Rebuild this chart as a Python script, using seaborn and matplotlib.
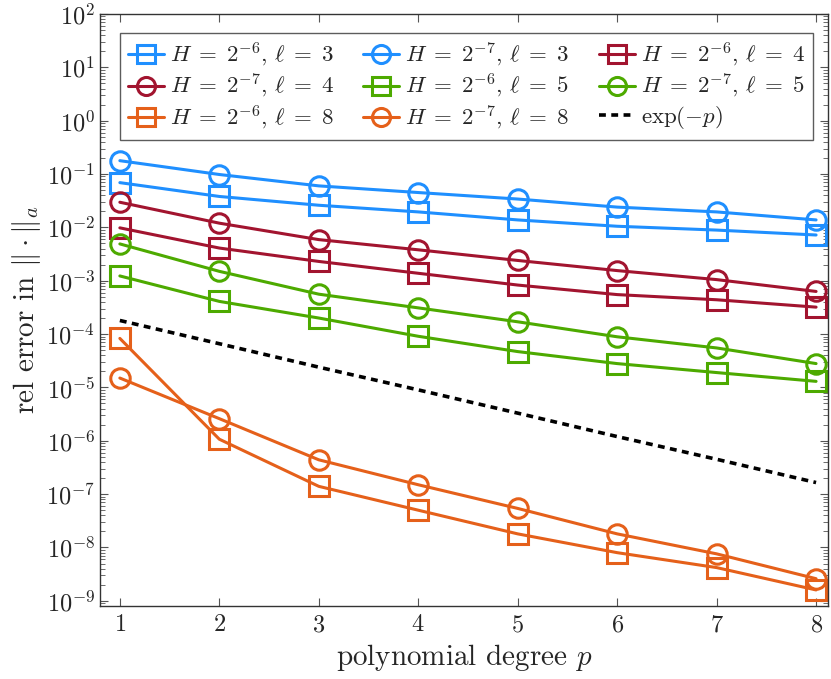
import numpy as np
import pandas as pd
import seaborn as sns
import matplotlib.pyplot as plt
from matplotlib.ticker import LogLocator, NullFormatter, FixedLocator

# polynomial degree
p = [1, 2, 3, 4, 5, 6, 7, 8]

# relative errors
h6_l3 = [6.9e-2, 3.8e-2, 2.6e-2, 1.95e-2, 1.38e-2, 1.05e-2, 8.9e-3, 7.2e-3]
h7_l3 = [1.78e-1, 9.8e-2, 6.0e-2, 4.5e-2, 3.4e-2, 2.4e-2, 1.95e-2, 1.38e-2]
h6_l4 = [9.8e-3, 4.1e-3, 2.3e-3, 1.38e-3, 8.3e-4, 5.5e-4, 4.4e-4, 3.2e-4]
h7_l4 = [2.96e-2, 1.2e-2, 5.9e-3, 3.8e-3, 2.4e-3, 1.55e-3, 1.05e-3, 6.3e-4]
h6_l5 = [1.23e-3, 4.1e-4, 2.0e-4, 9.1e-5, 4.7e-5, 2.8e-5, 1.9e-5, 1.3e-5]
h7_l5 = [4.9e-3, 1.5e-3, 5.6e-4, 3.1e-4, 1.7e-4, 8.9e-5, 5.5e-5, 2.8e-5]
h6_l8 = [8.3e-5, 1.07e-6, 1.4e-7, 5.0e-8, 1.8e-8, 8.0e-9, 4.2e-9, 1.6e-9]
h7_l8 = [1.5e-5, 2.6e-6, 4.4e-7, 1.5e-7, 5.4e-8, 1.8e-8, 7.6e-9, 2.6e-9]
ref_exp = [1.8e-4, 6.6e-5, 2.4e-5, 9.0e-6, 3.3e-6, 1.2e-6, 4.5e-7, 1.65e-7]

blue = '#1F8FFF'
red = '#A2142F'
green = '#4DAA00'
orange = '#E5601A'

series = [
    (h6_l3, r'$H\;=\;2^{-6}$, $\ell\;=\;3$', blue, 's'),
    (h7_l3, r'$H\;=\;2^{-7}$, $\ell\;=\;3$', blue, 'o'),
    (h6_l4, r'$H\;=\;2^{-6}$, $\ell\;=\;4$', red, 's'),
    (h7_l4, r'$H\;=\;2^{-7}$, $\ell\;=\;4$', red, 'o'),
    (h6_l5, r'$H\;=\;2^{-6}$, $\ell\;=\;5$', green, 's'),
    (h7_l5, r'$H\;=\;2^{-7}$, $\ell\;=\;5$', green, 'o'),
    (h6_l8, r'$H\;=\;2^{-6}$, $\ell\;=\;8$', orange, 's'),
    (h7_l8, r'$H\;=\;2^{-7}$, $\ell\;=\;8$', orange, 'o'),
]

sns.set_style('ticks')
plt.rcParams['font.family'] = 'serif'
plt.rcParams['font.serif'] = ['cmr10', 'DejaVu Serif']
plt.rcParams['mathtext.fontset'] = 'cm'
plt.rcParams['axes.formatter.use_mathtext'] = True

fig = plt.figure(figsize=(8.31, 6.79), dpi=100)
ax = fig.add_axes([0.1203, 0.1075, 0.8761, 0.8719])

for vals, label, color, marker in series:
    df = pd.DataFrame({'p': p, 'err': vals})
    sns.lineplot(data=df, x='p', y='err', ax=ax, color=color, marker=marker,
                 markersize=14, markerfacecolor='none', markeredgecolor=color,
                 markeredgewidth=2.2, linewidth=2.2, label=label)

df = pd.DataFrame({'p': p, 'err': ref_exp})
sns.lineplot(data=df, x='p', y='err', ax=ax, color='black', linewidth=2.6,
             linestyle=(0, (1.9, 1.5)), label=r'$\exp(-p)$')

ax.set_yscale('log')
ax.set_xlim(0.8, 8.12)
ax.set_ylim(8e-10, 100)
ax.xaxis.set_major_locator(FixedLocator(p))
ax.yaxis.set_major_locator(LogLocator(base=10, numticks=20))
ax.yaxis.set_minor_locator(LogLocator(base=10, subs=np.arange(2, 10), numticks=20))
ax.yaxis.set_minor_formatter(NullFormatter())
ax.tick_params(which='both', direction='in', top=True, right=True, labelsize=17.5,
               color='#555555')
ax.tick_params(which='major', length=6, width=0.8)
ax.tick_params(which='minor', length=3.5, width=0.6)
ax.tick_params(axis='x', pad=6)
for s in ax.spines.values():
    s.set_color('#333333')
    s.set_linewidth(1.0)

ax.set_xlabel(r'polynomial degree $p$', fontsize=21, labelpad=4)
ax.set_ylabel(r'rel error in $\|\cdot\|_a$', fontsize=21, labelpad=2)

handles, labels = ax.get_legend_handles_labels()
order = [0, 3, 6, 1, 4, 7, 2, 5, 8]
leg = ax.legend([handles[i] for i in order], [labels[i] for i in order],
                ncol=3, loc='upper center', bbox_to_anchor=(0.503, 0.968),
                fontsize=16.5, frameon=True, fancybox=False, edgecolor='#333333',
                handlelength=1.57, columnspacing=1.3, handletextpad=0.26,
                borderpad=0.35, labelspacing=0.15, borderaxespad=0)
leg.get_frame().set_linewidth(1.0)
for h in leg.legend_handles:
    if h.get_marker() not in (None, 'None', ''):
        h.set_markersize(13)

fig.savefig('out.png', dpi=100)
